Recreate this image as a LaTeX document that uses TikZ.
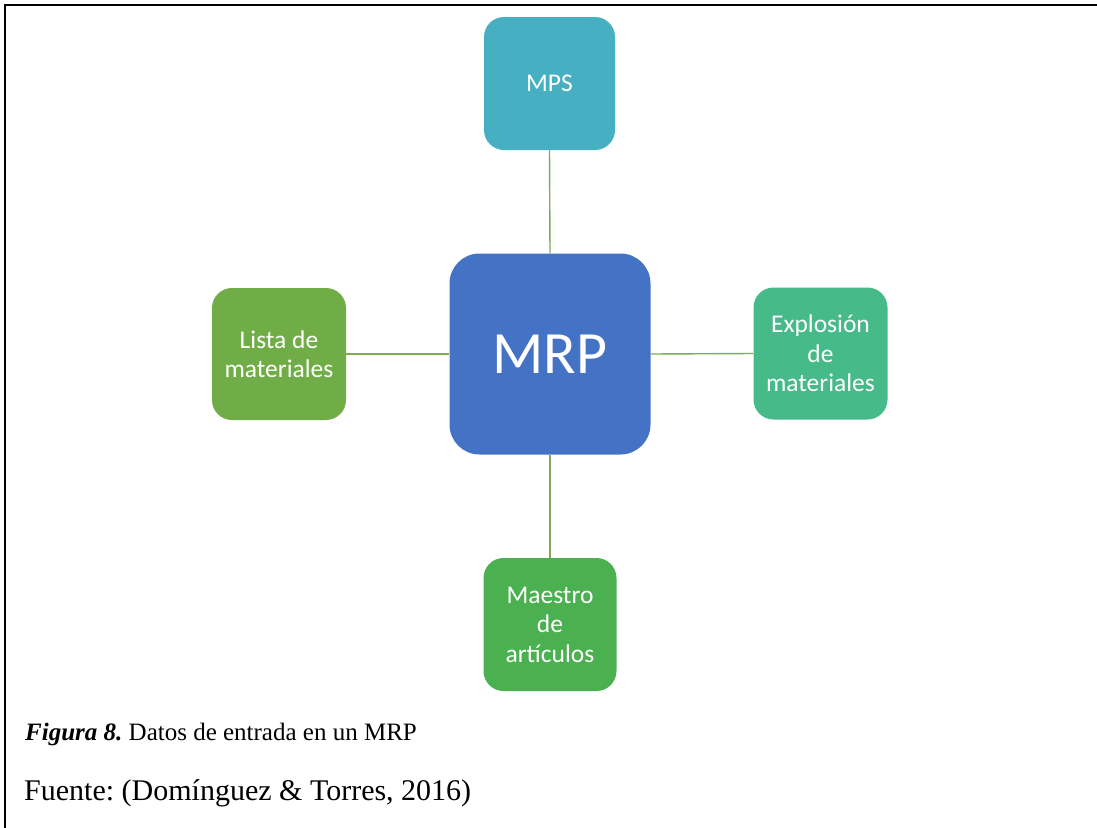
\documentclass[tikz,border=0pt]{standalone}
\usepackage{fontspec}
\setmainfont{Liberation Serif}
\newfontfamily\calib{Carlito}
\definecolor{mpsc}{HTML}{46AFC2}
\definecolor{mrpc}{HTML}{4472C4}
\definecolor{listac}{HTML}{70AD47}
\definecolor{explc}{HTML}{47BA8A}
\definecolor{maesc}{HTML}{4BB150}
\definecolor{linec}{HTML}{7FAA5C}
\frenchspacing
\begin{document}
\begin{tikzpicture}[x=1pt,y=-1pt,
  box/.style={rounded corners=20pt, draw=none, text=white, inner sep=0pt, align=center,
    minimum width=133pt, minimum height=133pt, font=\calib\fontsize{25.5}{29.5}\selectfont},
  conn/.style={draw=linec, line width=1.4pt}]
\useasboundingbox (0,0) rectangle (1097,827);
\fill[white] (0,0) rectangle (1097,827);
\draw[line width=2pt, line cap=rect] (5,827) -- (5,5) -- (1097,5);
\node[box, fill=mpsc, minimum width=131pt] (mps) at (549.5,83.5) {MPS};
\node[box, fill=mrpc, minimum width=201pt, minimum height=201pt, rounded corners=30pt,
  font=\calib\fontsize{60}{68}\selectfont] (mrp) at (550,354) {MRP};
\node[box, fill=listac, minimum width=134pt, minimum height=132pt] (lista) at (279,354) {Lista de\\materiales};
\node[box, fill=explc, minimum width=134pt, minimum height=132pt] (expl) at (820.5,353.5) {Explosión\\de\\materiales};
\node[box, fill=maesc] (maes) at (550,624.5) {Maestro\\de\\artículos};
\draw[conn] (mps.south) -- (mrp.north);
\draw[conn] (lista.east) -- (mrp.west);
\draw[conn] (mrp.east) -- (expl.west);
\draw[conn] (mrp.south) -- (maes.north);
\node[anchor=base west, inner sep=0pt] (cap) at (25,740) {\fontsize{25}{29}\selectfont\textbf{\textit{Figura 8.}} Datos de entrada en un MRP};
\node[anchor=base west, inner sep=0pt] (src) at (24,800) {\fontsize{30}{35}\selectfont Fuente: (Domínguez \& Torres, 2016)};
\end{tikzpicture}
\end{document}
